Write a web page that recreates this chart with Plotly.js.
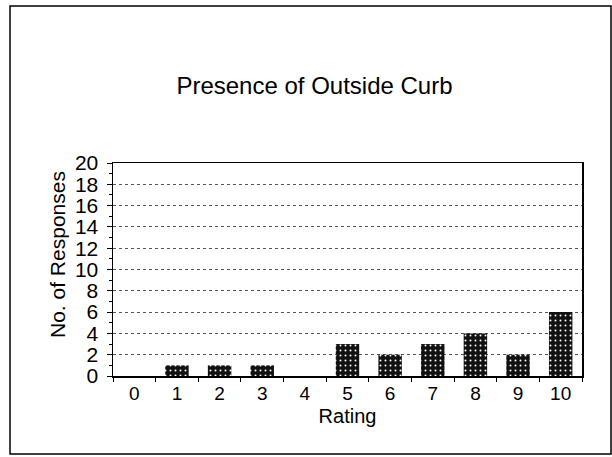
<!DOCTYPE html>
<html><head><meta charset="utf-8">
<script src="https://cdn.plot.ly/plotly-3.0.1.min.js"></script>
<style>body{margin:0;background:#fff}#c{width:612px;height:457px}</style>
</head><body><div id="c"></div>
<script>
const ratings = ['0','1','2','3','4','5','6','7','8','9','10'];
const responses = [0,1,1,1,0,3,2,3,4,2,6];
const yTicks = [0,2,4,6,8,10,12,14,16,18,20];

const font = 'Liberation Sans, Arial, sans-serif';
const trace = {
  type: 'bar', x: ratings, y: responses, width: 0.55,
  marker: {color: '#111', line: {color: '#000', width: 0},
    pattern: {shape: '.', fgcolor: '#fff', bgcolor: '#111', size: 5, solidity: 0.12}},
  hoverinfo: 'none'
};
const layout = {
  width: 612, height: 457,
  margin: {l: 113, r: 30, t: 163, b: 81},
  paper_bgcolor: '#fff', plot_bgcolor: '#fff',
  showlegend: false, bargap: 0.45,
  font: {family: font, color: '#000'},
  title: {text: 'Presence of Outside Curb', font: {size: 24, family: font},
    xref: 'paper', x: 0.4296, xanchor: 'center', y: 0.812, yanchor: 'middle'},
  xaxis: {
    type: 'category', categoryarray: ratings,
    showline: true, linecolor: '#000', linewidth: 1.5, mirror: true,
    ticks: 'outside', ticklen: 4, tickcolor: '#000', tickson: 'boundaries',
    tickfont: {size: 19, family: font},
    title: {text: 'Rating', font: {size: 20, family: font}, standoff: 5},
    showgrid: false, zeroline: false
  },
  yaxis: {
    range: [0, 20], tickvals: yTicks, ticktext: yTicks.map(String),
    showline: true, linecolor: '#000', linewidth: 1.5, mirror: true,
    ticks: 'outside', ticklen: 5, tickcolor: '#000', ticklabelstandoff: 4,
    tickfont: {size: 21, family: font},
    showgrid: true, gridcolor: '#555', griddash: 'dot', gridwidth: 1,
    minor: {dtick: 1, ticks: 'outside', ticklen: 3, tickcolor: '#000', showgrid: false},
    zeroline: false
  },
  annotations: [{text: 'No. of Responses', textangle: -90, showarrow: false,
    xref: 'paper', yref: 'paper', x: (57-113)/469, y: (376-255)/213,
    xanchor: 'center', yanchor: 'middle', font: {size: 21, family: font}}],
  shapes: [{type: 'rect', xref: 'paper', yref: 'paper',
    x0: (10-113)/469, x1: (611-113)/469, y0: (376-454)/213, y1: (376-6)/213,
    line: {color: '#000', width: 1.5}, fillcolor: 'rgba(0,0,0,0)', layer: 'below'}]
};
Plotly.newPlot('c', [trace], layout, {staticPlot: true, displayModeBar: false});
</script></body></html>
